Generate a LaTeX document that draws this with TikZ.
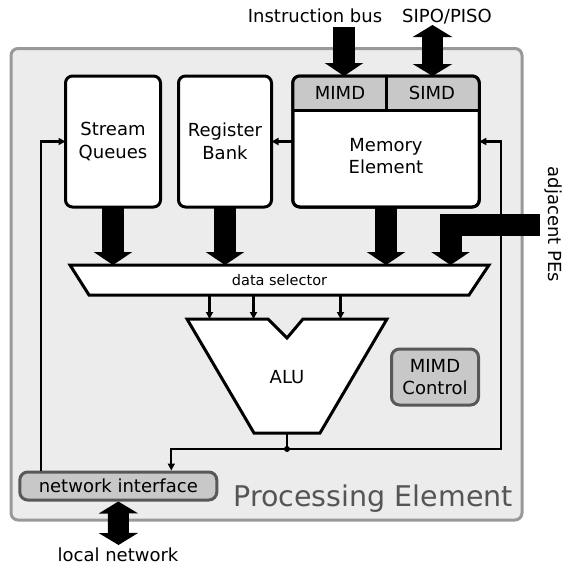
\documentclass[tikz,border=0pt]{standalone}
\usepackage{fontspec}
\setmainfont{DejaVu Sans}
\usetikzlibrary{arrows.meta,calc}

\definecolor{pebg}{HTML}{ECECEC}
\definecolor{peedge}{HTML}{999999}
\definecolor{unitgray}{HTML}{C8C8C8}
\definecolor{darkedge}{HTML}{585858}
\definecolor{titlegray}{HTML}{555555}

\tikzset{
  txt/.style={font=\fontsize{18}{22.5}\selectfont, inner sep=0pt, align=center},
  pebox/.style={draw=peedge, fill=pebg, line width=3pt, rounded corners=7pt, inner sep=0pt},
  unitbox/.style={draw=black, fill=white, line width=3pt, rounded corners=7pt, inner sep=0pt, outer sep=0pt},
  ctrlbox/.style={draw=darkedge, fill=unitgray, line width=3pt, rounded corners=8pt, inner sep=0pt,
                  font=\fontsize{18}{22.5}\selectfont, align=center},
  ghost/.style={inner sep=0pt, outer sep=0pt},
  outlined/.style={draw=black, fill=white, line width=3pt, line join=miter},
  wire/.style={line width=2.3pt, -{Triangle[length=7pt,width=7pt]}},
  fatbus/.style={line width=22pt, line join=miter, -{Triangle[length=13pt,width=38pt]}},
  fatduplex/.style={line width=21pt, {Triangle[length=12pt,width=39pt]}-{Triangle[length=12pt,width=39pt]}},
}

\begin{document}
\begin{tikzpicture}[x=1pt, y=-1pt]
\useasboundingbox (0,0) rectangle (562,565);

% processing element frame
\node[pebox, minimum width=511pt, minimum height=471.5pt] (pe) at (266.5,284.25) {};
\node[anchor=base east, text=titlegray, inner sep=0pt,
      font=\fontsize{28.5}{34}\selectfont] (petitle) at (513,506.7) {Processing Element};

% storage units
\node[unitbox, minimum width=95pt, minimum height=131pt] (sq) at (113,141.5) {};
\node[txt] (sqlabel) at (sq.center) {Stream\\Queues};
\node[unitbox, minimum width=93pt, minimum height=131pt] (rb) at (225,141.5) {};
\node[txt] (rblabel) at (rb.center) {Register\\Bank};
\node[unitbox, minimum width=186.5pt, minimum height=131pt] (mem) at (386,141.5) {};
% mode strip across the top of the memory element
\begin{scope}
  \clip (292,74) rectangle (480,110);
  \fill[unitgray, rounded corners=7pt] (mem.south west) rectangle (mem.north east);
\end{scope}
\draw[line width=3pt, rounded corners=7pt] (mem.south west) rectangle (mem.north east);
\draw[line width=3pt] (mem.west |- 0,110) -- (mem.east |- 0,110);
\draw[line width=3pt] (mem.north) -- (mem.north |- 0,110);
\node[txt] (mimd) at (340,93) {MIMD};
\node[txt] (simd) at (432,93) {SIMD};
\node[txt] (memlabel) at (386,156) {Memory\\Element};

% external buses
\node[txt, anchor=base] (iblabel) at (315,22) {Instruction bus};
\node[txt, anchor=base] (siplabel) at (447,22) {SIPO/PISO};
\coordinate (ibsrc) at (344,27);
\coordinate (siptop) at (432.5,25);
\draw[fatbus] (ibsrc) -- (mem.north -| ibsrc);
\draw[fatduplex] (siptop) -- (mem.north -| siptop);

% data selector
\node[ghost, minimum width=419pt, minimum height=30pt] (ds) at (279.5,280) {};
\draw[outlined] (ds.north west) -- (ds.north east) -- ($(ds.south east)+(-20,0)$)
  -- ($(ds.south west)+(19,0)$) -- cycle;
\node[inner sep=0pt, font=\fontsize{14.5}{17}\selectfont] (dslabel) at (ds.center) {data selector};

% buses into the selector
\coordinate (adjsrc) at (540,224.5);
\coordinate (adjdrop) at (450.5,0);
\draw[fatbus] (sq.south) -- (ds.north -| sq.south);
\draw[fatbus] (rb.south) -- (ds.north -| rb.south);
\draw[fatbus] (mem.south) -- (ds.north -| mem.south);
\draw[fatbus] (adjsrc) -| (ds.north -| adjdrop);
\node[txt, rotate=-90] (adjlabel) at (553,224.5) {adjacent PEs};

% ALU
\node[ghost, minimum width=200pt, minimum height=114pt] (alu) at (287,376) {};
\draw[outlined] (alu.north west) -- ($(alu.north)+(-19,0)$) -- ($(alu.north)+(0,19)$)
  -- ($(alu.north)+(16,0)$) -- (alu.north east) -- ($(alu.south)+(33,0)$)
  -- ($(alu.south)+(-33,0)$) -- cycle;
\node[txt] (alulabel) at (287,377.5) {ALU};

\coordinate (opa) at (209.5,0);
\coordinate (opb) at (253.5,0);
\coordinate (opc) at (340.5,0);
\draw[wire] (ds.south -| opa) -- (alu.north -| opa);
\draw[wire] (ds.south -| opb) -- (alu.north -| opb);
\draw[wire] (ds.south -| opc) -- (alu.north -| opc);

% MIMD control
\node[ctrlbox, minimum width=87pt, minimum height=56pt] (mc) at (435,377) {MIMD\\Control};

% network interface
\node[ctrlbox, minimum width=197pt, minimum height=28pt] (ni) at (118.3,486) {network interface};
\coordinate (lnet) at (118.5,545);
\draw[fatduplex] (ni.south) -- (lnet);
\node[txt] (lnlabel) at (118,555) {local network};

% result routing
\path (alu.south) ++(0,16) coordinate (jn);
\coordinate (rturn) at (501,449);
\draw[line width=2.3pt] (alu.south) -- (jn);
\draw[wire] (jn) -| ($(ni.north west)+(153,0)$);
\draw[wire] (jn) -- (rturn) |- (mem.east);
\fill (jn) circle (3pt);
\draw[wire] ($(ni.north west)+(23,0)$) |- (sq.west);
\draw[wire] (mem.west) -- (rb.east);
\end{tikzpicture}
\end{document}
